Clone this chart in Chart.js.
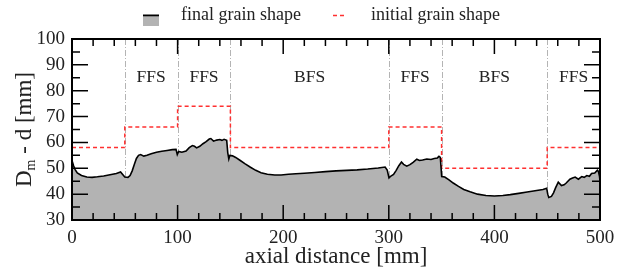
<!DOCTYPE html>
<html>
<head>
<meta charset="utf-8">
<script src="https://cdn.jsdelivr.net/npm/chart.js@4/dist/chart.umd.min.js"></script>
<style>
  html, body { margin: 0; padding: 0; background: #fff; }
  #wrap { width: 626px; height: 271px; }
</style>
</head>
<body>
<div id="wrap"><canvas id="grainChart"></canvas></div>
<script>
// axial position [mm] and measured Dm - d [mm] of the final grain
const finalX = [0, 1.5, 3, 5, 9, 14, 19, 24, 30, 36, 42, 46, 48, 50, 53, 55, 57, 59, 61, 63,
  65, 68, 71, 75, 80, 85, 90, 95, 98.5, 99.7, 101, 104, 108, 111, 114, 116, 118, 121, 124, 127,
  130, 131.5, 134, 137, 140, 142, 144, 146.5, 147.5, 148.5, 149.5, 152, 155, 159, 164, 169, 174, 179, 185, 192,
  198, 205, 212, 220, 230, 240, 250, 260, 270, 280, 290, 296.5, 298.5, 300.2, 302, 304.5, 307, 309.5, 312, 314,
  317, 320, 323, 326.5, 329, 332, 336, 340, 343, 346, 347.5, 348.8, 350.1, 353, 357, 361, 366, 371, 377, 384,
  392, 400, 408, 415, 423, 431, 440, 446, 449.5, 450.5, 451.5, 454, 456, 458, 460.5, 463.5, 466, 468, 471.5, 474,
  476.5, 479.5, 482.7, 485, 487.5, 490, 492, 495, 497.5, 498.5, 499.5, 500];
const finalY = [53, 51, 49.5, 48.2, 47.2, 46.6, 46.5, 46.7, 47.0, 47.5, 48.0, 48.6, 47.6, 46.6, 46.5, 47.2, 49.0, 51.5, 53.8, 55.0,
  55.3, 54.7, 55.0, 55.6, 56.2, 56.6, 56.9, 57.2, 57.3, 55.3, 56.5, 56.2, 56.7, 58.0, 58.8, 58.5, 57.9, 58.5, 59.5, 60.3,
  61.3, 61.5, 60.5, 60.9, 61.1, 60.8, 61.2, 60.8, 56.0, 53.6, 55.0, 54.8, 54.2, 53.1, 51.7, 50.4, 49.2, 48.3, 47.7, 47.4,
  47.4, 47.7, 47.9, 48.1, 48.4, 48.7, 49.0, 49.2, 49.4, 49.7, 50.1, 50.5, 49.3, 46.3, 47.0, 47.6, 49.2, 51.0, 52.4, 51.5,
  50.8, 51.4, 52.3, 53.5, 53.0, 53.2, 53.6, 53.4, 53.8, 54.0, 54.6, 54.2, 46.8, 46.6, 45.5, 44.3, 43.0, 41.8, 40.9, 40.0,
  39.5, 39.3, 39.5, 39.8, 40.3, 40.8, 41.4, 41.8, 42.3, 40.0, 38.7, 39.1, 40.5, 42.5, 44.6, 43.3, 43.6, 44.3, 45.8, 46.2,
  46.6, 45.8, 46.8, 46.5, 47.2, 46.9, 48.0, 48.2, 49.3, 48.8, 47.0, 45.0];

// initial grain: one value per section
const sectionEdges = [0, 50, 100, 150, 300, 350, 450, 500];
const initialShape = [58, 66, 74, 58, 66, 50, 58];
const sectionLabels = ["", "FFS", "FFS", "BFS", "FFS", "BFS", "FFS"];
const labelLevel = 85;

const SERIF = "'Liberation Serif', 'DejaVu Serif', serif";

const initialPoints = sectionEdges.map((x, i) => ({
  x,
  y: initialShape[Math.min(i, initialShape.length - 1)],
}));

const sectionPlugin = {
  id: "sections",
  beforeDatasetsDraw(chart) {
    const { ctx, chartArea, scales } = chart;
    ctx.save();
    ctx.strokeStyle = "#b4b4b4";
    ctx.lineWidth = 1;
    ctx.setLineDash([6, 2, 1, 2]);
    sectionEdges.slice(1, -1).forEach(v => {
      const px = Math.round(scales.x.getPixelForValue(v)) + 0.5;
      ctx.beginPath();
      ctx.moveTo(px, chartArea.top);
      ctx.lineTo(px, chartArea.bottom);
      ctx.stroke();
    });
    ctx.restore();
  },
  afterDatasetsDraw(chart) {
    const { ctx, scales } = chart;
    ctx.save();
    ctx.fillStyle = "#222";
    ctx.font = "17.5px " + SERIF;
    ctx.textAlign = "center";
    ctx.textBaseline = "middle";
    sectionLabels.forEach((lab, i) => {
      if (!lab) return;
      const mid = (sectionEdges[i] + sectionEdges[i + 1]) / 2;
      ctx.fillText(lab, scales.x.getPixelForValue(mid), scales.y.getPixelForValue(labelLevel));
    });
    ctx.restore();
  },
};

const framePlugin = {
  id: "frame",
  afterDraw(chart) {
    const { ctx, chartArea: a, scales } = chart;
    ctx.save();
    ctx.strokeStyle = "#000";
    ctx.lineWidth = 1.5;
    ctx.beginPath();
    // x ticks, top and bottom, pointing in
    for (let v = 0; v <= 500; v += 20) {
      const px = scales.x.getPixelForValue(v);
      const len = v % 100 === 0 ? 15 : 7;
      ctx.moveTo(px, a.bottom); ctx.lineTo(px, a.bottom - len);
      ctx.moveTo(px, a.top); ctx.lineTo(px, a.top + len);
    }
    // y ticks, left and right
    for (let v = 30; v <= 100; v += 5) {
      const py = scales.y.getPixelForValue(v);
      const len = v % 10 === 0 ? 16 : 8;
      ctx.moveTo(a.left, py); ctx.lineTo(a.left + len, py);
      ctx.moveTo(a.right, py); ctx.lineTo(a.right - len, py);
    }
    ctx.stroke();
    ctx.lineWidth = 2;
    ctx.strokeRect(a.left, a.top, a.right - a.left, a.bottom - a.top);

    // y axis title with subscript
    const cy = (a.top + a.bottom) / 2;
    ctx.translate(24, cy);
    ctx.rotate(-Math.PI / 2);
    ctx.fillStyle = "#222";
    ctx.textBaseline = "alphabetic";
    const big = "23px " + SERIF, small = "14px " + SERIF;
    ctx.font = big;
    const wD = ctx.measureText("D").width;
    const wRest = ctx.measureText(" - d [mm]").width;
    ctx.font = small;
    const wM = ctx.measureText("m").width;
    let x0 = -(wD + wM + wRest) / 2;
    ctx.font = big;
    ctx.fillText("D", x0, 7);
    ctx.font = small;
    ctx.fillText("m", x0 + wD, 11);
    ctx.font = big;
    ctx.fillText(" - d [mm]", x0 + wD + wM, 7);
    ctx.restore();

    // legend
    ctx.save();
    ctx.fillStyle = "#b3b3b3";
    ctx.fillRect(143, 17, 16, 9);
    ctx.strokeStyle = "#000";
    ctx.lineWidth = 2;
    ctx.beginPath();
    ctx.moveTo(143, 15.5); ctx.lineTo(159, 15.5);
    ctx.stroke();
    ctx.strokeStyle = "#ff3030";
    ctx.lineWidth = 1.5;
    ctx.setLineDash([4, 3]);
    ctx.beginPath();
    ctx.moveTo(333, 15.5); ctx.lineTo(345, 15.5);
    ctx.stroke();
    ctx.fillStyle = "#222";
    ctx.font = "18px " + SERIF;
    ctx.textBaseline = "middle";
    ctx.fillText("final grain shape", 181, 15);
    ctx.fillText("initial grain shape", 371, 15);
    ctx.restore();
  },
};

new Chart(document.getElementById("grainChart"), {
  type: "line",
  data: {
    datasets: [
      {
        label: "final grain shape",
        data: finalX.map((x, i) => ({ x, y: finalY[i] })),
        borderColor: "#000",
        borderWidth: 1.6,
        backgroundColor: "#b3b3b3",
        fill: "start",
        pointRadius: 0,
        tension: 0,
      },
      {
        label: "initial grain shape",
        data: initialPoints,
        borderColor: "#ff3030",
        borderWidth: 1.5,
        borderDash: [4, 3],
        stepped: "before",
        fill: false,
        pointRadius: 0,
      },
    ],
  },
  options: {
    responsive: true,
    maintainAspectRatio: false,
    animation: false,
    layout: { padding: { top: 39, right: 26, left: 0, bottom: 0 } },
    plugins: { legend: { display: false }, tooltip: { enabled: false } },
    scales: {
      x: {
        type: "linear",
        min: 0,
        max: 500,
        afterFit: s => { s.height = 51; },
        ticks: { stepSize: 100, padding: 7, color: "#222", font: { family: SERIF, size: 19 } },
        grid: { display: false, drawTicks: false },
        border: { display: false },
        title: {
          display: true,
          text: "axial distance [mm]",
          color: "#222",
          padding: 0,
          font: { family: SERIF, size: 23 },
        },
      },
      y: {
        min: 30,
        max: 100,
        afterFit: s => { s.width = 72; },
        ticks: { stepSize: 10, padding: 7, color: "#222", font: { family: SERIF, size: 19 } },
        grid: { display: false, drawTicks: false },
        border: { display: false },
      },
    },
  },
  plugins: [sectionPlugin, framePlugin],
});
</script>
</body>
</html>
